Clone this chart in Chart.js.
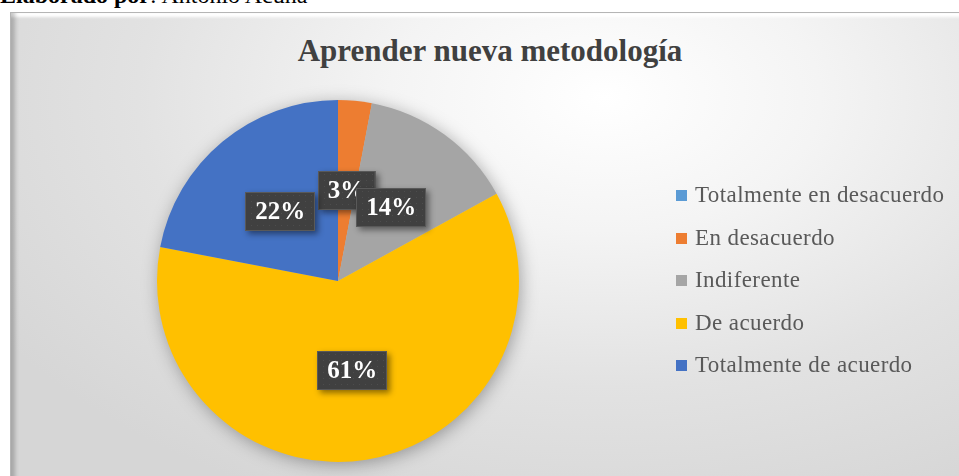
<!DOCTYPE html>
<html>
<head>
<meta charset="utf-8">
<script src="https://cdn.jsdelivr.net/npm/chart.js@4.4.1/dist/chart.umd.min.js"></script>
<style>
    html, body { margin: 0; padding: 0; background: #fff; }
    body { width: 959px; height: 476px; position: relative; overflow: hidden; font-family: "Liberation Serif", "DejaVu Serif", serif; }
    .credit { position: absolute; left: 0; top: -17px; font-size: 24px; line-height: 24px; color: #000; white-space: nowrap; }
    .frame {
        position: absolute; left: 10px; top: 12px; width: 960px; height: 470px;
        border: 1px solid #b5b5b5; box-sizing: border-box;
        background: radial-gradient(ellipse 75% 95% at 62% 18%, #ffffff 0%, #f4f4f4 30%, #e2e2e2 65%, #d6d6d6 100%);
        box-shadow: inset 7px 0 4px -3px rgba(0,0,0,0.22), inset 0 12px 3px -8px #ffffff;
    }
    .title { position: absolute; left: 10px; width: 960px; top: 33px; text-align: center; font-weight: bold; font-size: 31px; line-height: 36px; color: #404040; }
    #chart { position: absolute; left: 0; top: 0; }
    .legend { position: absolute; left: 676px; top: 180px; }
    .legend div { height: 42.5px; line-height: 30px; font-size: 23px; letter-spacing: 0.4px; color: #595959; white-space: nowrap; }
    .legend span { display: inline-block; width: 11px; height: 11px; margin-right: 8px; vertical-align: 1px; }
</style>
</head>
<body>
<div class="credit"><b>Elaborado por</b>: Antonio Acuña</div>
<div class="frame"></div>
<div class="title">Aprender nueva metodología</div>
<canvas id="chart" width="959" height="476"></canvas>
<div class="legend" id="legend"></div>
<script>
// Aprender nueva metodología - pie
const categories = ['Totalmente en desacuerdo', 'En desacuerdo', 'Indiferente', 'De acuerdo', 'Totalmente de acuerdo'];
const percents = [0, 3, 14, 61, 22];
const sliceColors = ['#5B9BD5', '#ED7D31', '#A5A5A5', '#FFC000', '#4472C4'];

// soft shadow behind the whole pie
const pieShadow = {
    id: 'pieShadow',
    beforeDatasetsDraw(chart) {
        const arc = chart.getDatasetMeta(0).data[0];
        if (!arc) return;
        const ctx = chart.ctx;
        ctx.save();
        ctx.shadowColor = 'rgba(0,0,0,0.35)';
        ctx.shadowBlur = 18;
        ctx.shadowOffsetX = 2;
        ctx.shadowOffsetY = 3;
        ctx.fillStyle = '#bbbbbb';
        ctx.beginPath();
        ctx.arc(arc.x, arc.y, arc.outerRadius - 1, 0, Math.PI * 2);
        ctx.fill();
        ctx.restore();
    }
};

// dark boxed percentage labels
const boxLabels = {
    id: 'boxLabels',
    afterDatasetsDraw(chart) {
        const ctx = chart.ctx;
        const meta = chart.getDatasetMeta(0);
        ctx.save();
        ctx.font = 'bold 25px "Liberation Serif", serif';
        ctx.textAlign = 'center';
        ctx.textBaseline = 'middle';
        meta.data.forEach((arc, i) => {
            const v = percents[i];
            if (!v) return;
            const p = arc.tooltipPosition();
            const text = v + '%';
            const w = ctx.measureText(text).width + 20;
            const h = 39;
            const x = Math.round(p.x - w / 2), y = Math.round(p.y - h / 2);
            ctx.save();
            ctx.shadowColor = 'rgba(0,0,0,0.45)';
            ctx.shadowBlur = 6;
            ctx.shadowOffsetX = 3;
            ctx.shadowOffsetY = 3;
            ctx.fillStyle = '#404040';
            ctx.fillRect(x, y, w, h);
            ctx.restore();
            ctx.fillStyle = 'rgba(255,255,255,0.07)';
            for (let yy = y + 3; yy < y + h - 1; yy += 6) {
                for (let xx = x + 3 + ((yy - y) % 12 ? 3 : 0); xx < x + w - 1; xx += 6) ctx.fillRect(xx, yy, 1, 1);
            }
            ctx.strokeStyle = '#595959';
            ctx.lineWidth = 1;
            ctx.strokeRect(x + 0.5, y + 0.5, w - 1, h - 1);
            ctx.fillStyle = '#ffffff';
            ctx.fillText(text, p.x, p.y + 1);
        });
        ctx.restore();
    }
};

new Chart(document.getElementById('chart'), {
    type: 'pie',
    data: {
        labels: categories,
        datasets: [{ data: percents, backgroundColor: sliceColors, borderWidth: 0 }]
    },
    options: {
        responsive: false,
        animation: false,
        layout: { padding: { left: 157, right: 440, top: 100, bottom: 14 } },
        plugins: { legend: { display: false }, tooltip: { enabled: false }, title: { display: false } }
    },
    plugins: [pieShadow, boxLabels]
});

document.getElementById('legend').innerHTML = categories.map((c, i) =>
    `<div><span style="background:${sliceColors[i]}"></span>${c}</div>`).join('');
</script>
</body>
</html>
